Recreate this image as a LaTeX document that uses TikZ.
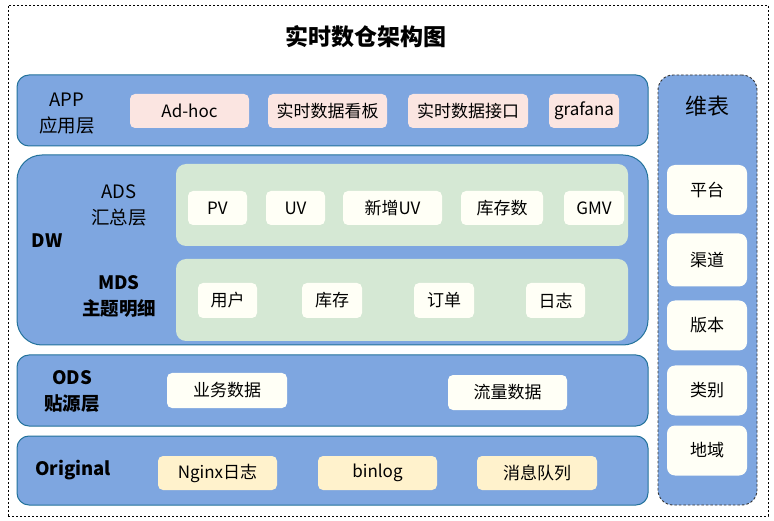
\documentclass[tikz,border=0pt]{standalone}
\usepackage{fontspec}
\setmainfont{Noto Sans CJK SC}
\begin{document}
\definecolor{bandblue}{HTML}{7EA6E0}
\definecolor{bandline}{HTML}{23729B}
\definecolor{dwgreen}{HTML}{D5E8D4}
\definecolor{apppink}{HTML}{FBE5E1}
\definecolor{itemwhite}{HTML}{FFFFF6}
\definecolor{srccream}{HTML}{FFF2CC}
\begin{tikzpicture}[x=1pt,y=-1pt,
  band/.style={draw=bandline,line width=1pt,fill=bandblue,rounded corners=12pt,inner sep=0pt},
  zone/.style={fill=dwgreen,rounded corners=10pt,inner sep=0pt},
  item/.style={rounded corners=5pt,inner sep=0pt,minimum height=34pt,
    font=\fontsize{17}{20}\selectfont},
  appitem/.style={item,fill=apppink},
  dwitem/.style={item,fill=itemwhite},
  srcitem/.style={item,fill=srccream},
  dimitem/.style={item,fill=itemwhite,rounded corners=8pt,minimum width=80pt,minimum height=50pt},
  layer/.style={align=center,font=\fontsize{18.5}{26}\selectfont},
  blayer/.style={layer,font=\fontsize{18.5}{26}\selectfont\bfseries}]
\useasboundingbox (0,0) rectangle (774,521);
% outer frame
\node (frame) [draw=black,dash pattern=on 2pt off 2pt,line width=0.8pt,inner sep=0pt,
  minimum width=760pt,minimum height=511pt] at (388,260.5) {};
\node (title) [font=\fontsize{23}{28}\selectfont\bfseries] at (366,37) {实时数仓架构图};

% APP layer
\node (app) [band,minimum width=631pt,minimum height=71pt] at (332.5,110.5) {};
\node (applbl) [layer] at (67,114) {APP\\应用层};
\node (adhoc) [appitem,minimum width=119pt] at (189.5,111) {Ad-hoc};
\node (board) [appitem,minimum width=119pt] at (327.5,111) {实时数据看板};
\node (api) [appitem,minimum width=120pt] at (468,111) {实时数据接口};
\node (grafana) [appitem,minimum width=70pt] at (584,111) {grafana};

% DW layer
\node (dw) [band,rounded corners=25pt,minimum width=631pt,minimum height=190pt] at (332.5,250) {};
\node (dwlbl) [blayer] at (47,241) {DW};
\node (ads) [zone,minimum width=452pt,minimum height=82pt] at (402,205) {};
\node (adslbl) [layer] at (119,205) {ADS\\汇总层};
\node (pv) [dwitem,minimum width=59pt] at (217.5,208) {PV};
\node (uv) [dwitem,minimum width=59pt] at (295.5,208) {UV};
\node (newuv) [dwitem,minimum width=99pt] at (392.5,208) {新增UV};
\node (stock) [dwitem,minimum width=82pt] at (502,208) {库存数};
\node (gmv) [dwitem,minimum width=60pt] at (594,208) {GMV};
\node (mds) [zone,minimum width=452pt,minimum height=82pt] at (402,300) {};
\node (mdslbl) [blayer] at (119,296) {MDS\\主题明细};
\node (user) [dwitem,minimum width=59pt,minimum height=35pt] at (227.5,300.5) {用户};
\node (inv) [dwitem,minimum width=60pt,minimum height=35pt] at (332,300.5) {库存};
\node (order) [dwitem,minimum width=60pt,minimum height=35pt] at (444,300.5) {订单};
\node (log) [dwitem,minimum width=59pt,minimum height=35pt] at (555.5,300.5) {日志};

% ODS layer
\node (ods) [band,minimum width=631pt,minimum height=71pt] at (332.5,390.5) {};
\node (odslbl) [blayer] at (72,391) {ODS\\贴源层};
\node (biz) [dwitem,minimum width=120pt,minimum height=35pt] at (227,390.5) {业务数据};
\node (traffic) [dwitem,minimum width=119pt,minimum height=35pt] at (507.5,392.5) {流量数据};

% source layer
\node (orig) [band,minimum width=631pt,minimum height=69pt] at (332.5,470.5) {};
\node (origlbl) [blayer] at (73,470) {Original};
\node (nginx) [srcitem,minimum width=119pt] at (217.5,473) {Nginx日志};
\node (binlog) [srcitem,minimum width=119pt] at (377.5,473) {binlog};
\node (mq) [srcitem,minimum width=120pt] at (537,473) {消息队列};

% dimension tables
\node (dim) [draw=black!80,dash pattern=on 2.5pt off 2pt,line width=0.9pt,fill=bandblue,
  rounded corners=15pt,inner sep=0pt,minimum width=99pt,minimum height=430pt] at (707.5,290) {};
\node (dimlbl) [font=\fontsize{22}{26}\selectfont] at (707,106) {维表};
\node (plat) [dimitem] at (707,190) {平台};
\node (chan) [dimitem,minimum height=53pt] at (707,260) {渠道};
\node (ver) [dimitem] at (707,325.5) {版本};
\node (cat) [dimitem] at (707,390.5) {类别};
\node (region) [dimitem] at (707,450.5) {地域};
\end{tikzpicture}
\end{document}
